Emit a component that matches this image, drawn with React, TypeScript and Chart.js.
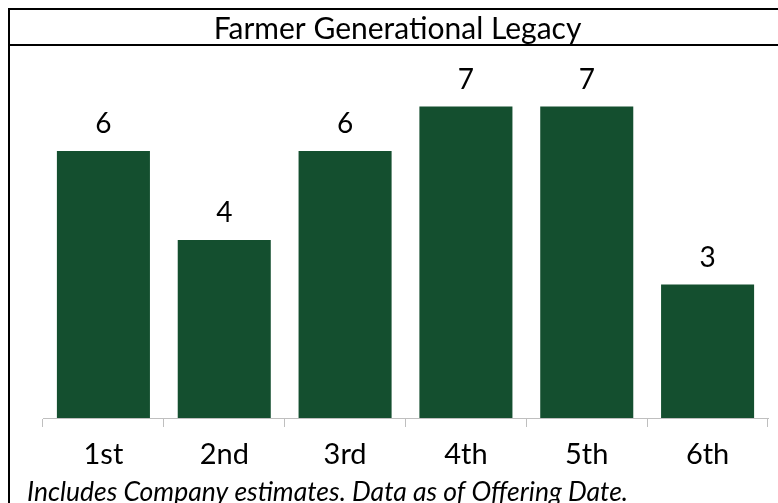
import React, { useEffect, useRef } from "react";
import { Chart, registerables } from "chart.js";

Chart.register(...registerables);

const generations = ["1st", "2nd", "3rd", "4th", "5th", "6th"];
const farmerCounts = [6, 4, 6, 7, 7, 3];
const yAxisMax = 8;

const chartTitle = "Farmer Generational Legacy";
const footnote = "Includes Company estimates. Data as of Offering Date.";

const barGreen = "#144f2f";
const axisGrey = "#bfbfbf";
const fontFamily = "Lato, 'Open Sans', sans-serif";

// Frame around the chart and the rule under the title
const framePlugin = {
  id: "frame",
  afterDraw(chart: any) {
    const ctx = chart.ctx;
    const w = chart.width;
    const h = chart.height;
    ctx.save();
    ctx.strokeStyle = "#000";
    ctx.lineWidth = 2;
    ctx.beginPath();
    ctx.moveTo(9, 8);
    ctx.lineTo(9, h);
    ctx.moveTo(8, 9);
    ctx.lineTo(w, 9);
    ctx.moveTo(8, 45);
    ctx.lineTo(w, 45);
    ctx.stroke();
    ctx.restore();
  },
};

// Value labels drawn above each bar
const valueLabelPlugin = {
  id: "valueLabels",
  afterDatasetsDraw(chart: any) {
    const ctx = chart.ctx;
    const meta = chart.getDatasetMeta(0);
    const values = chart.data.datasets[0].data as number[];
    ctx.save();
    ctx.fillStyle = "#000";
    ctx.font = `28px ${fontFamily}`;
    ctx.textAlign = "center";
    ctx.textBaseline = "alphabetic";
    meta.data.forEach((bar: any, i: number) => {
      ctx.fillText(String(values[i]), bar.x, bar.y - 18);
    });
    ctx.restore();
  },
};

export default function App() {
  const canvasRef = useRef<HTMLCanvasElement | null>(null);

  useEffect(() => {
    const canvas = canvasRef.current;
    if (!canvas) return;
    const chart = new Chart(canvas, {
      type: "bar",
      data: {
        labels: generations,
        datasets: [
          {
            data: farmerCounts,
            backgroundColor: barGreen,
            borderWidth: 0,
            barPercentage: 0.77,
            categoryPercentage: 1,
          },
        ],
      },
      options: {
        responsive: false,
        animation: false,
        layout: { padding: { left: 27, right: 10, top: 0, bottom: 0 } },
        plugins: {
          legend: { display: false },
          tooltip: { enabled: false },
          title: {
            display: true,
            text: chartTitle,
            color: "#000",
            font: { family: fontFamily, size: 30, weight: "normal", lineHeight: 1.2 },
            padding: { top: 11, bottom: 15 },
          },
          subtitle: {
            display: true,
            text: footnote,
            position: "bottom",
            align: "start",
            color: "#000",
            font: { family: fontFamily, size: 26.5, style: "italic", weight: "normal", lineHeight: 0.6 },
            padding: { top: 1.5, bottom: 3 },
          },
        },
        scales: {
          x: {
            offset: true,
            grid: {
              display: true,
              offset: true,
              drawOnChartArea: false,
              drawTicks: true,
              tickLength: 9,
              color: axisGrey,
              lineWidth: 1,
            },
            border: { display: true, color: axisGrey, width: 1 },
            ticks: {
              color: "#000",
              padding: 13.3,
              font: { family: fontFamily, size: 29, lineHeight: 1.0 },
              maxRotation: 0,
            },
          },
          y: {
            min: 0,
            max: yAxisMax,
            display: true,
            grid: { display: false },
            border: { display: false },
            ticks: { display: false },
            afterFit(scale: any) {
              scale.width = 16;
            },
          },
        },
      },
      plugins: [valueLabelPlugin, framePlugin],
    });
    return () => chart.destroy();
  }, []);

  return (
    <div style={{ position: "absolute", left: 0, top: 0, width: 778, height: 503, background: "#fff" }}>
      <canvas ref={canvasRef} width={778} height={503} style={{ display: "block" }} />
    </div>
  );
}
